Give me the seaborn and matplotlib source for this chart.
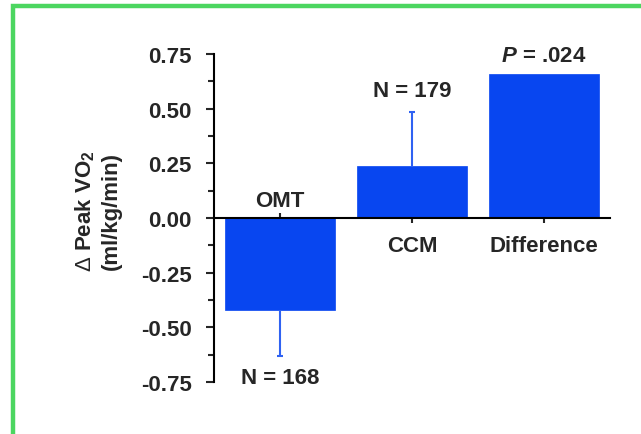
import matplotlib
matplotlib.use("Agg")
import matplotlib.pyplot as plt
import seaborn as sns
import numpy as np
import pandas as pd
from matplotlib.patches import Rectangle

categories = ["OMT", "CCM", "Difference"]
values = [-0.42, 0.24, 0.66]
err_low = [0.21, 0.0, 0.0]
err_high = [0.0, 0.245, 0.0]
yticks = [-0.75, -0.50, -0.25, 0.00, 0.25, 0.50, 0.75]
ytick_labels = ["-0.75", "-0.50", "-0.25", "0.00", "0.25", "0.50", "0.75"]
top_labels = ["N = 168", "N = 179", "$\\mathbfit{P}$ = .024"]

sns.set_style("white")
plt.rcParams["font.family"] = ["Liberation Sans", "DejaVu Sans"]
plt.rcParams["font.weight"] = "bold"
plt.rcParams["mathtext.fontset"] = "custom"
plt.rcParams["mathtext.rm"] = "Liberation Sans:normal"
plt.rcParams["mathtext.bf"] = "Liberation Sans:bold"
plt.rcParams["mathtext.it"] = "Liberation Sans:italic"
plt.rcParams["mathtext.bfit"] = "Liberation Sans:italic:bold"

blue = "#0846F0"
df = pd.DataFrame({"cat": categories, "val": values})

fig = plt.figure(figsize=(6.41, 4.35), dpi=100)
ax = fig.add_axes([214 / 641, 1 - 383 / 435, 396 / 641, 328 / 435])
sns.barplot(data=df, x="cat", y="val", color=blue, saturation=1, width=0.83,
            errorbar=None, ax=ax, edgecolor=blue, linewidth=0.5)
xpos = np.arange(len(categories))
for i in range(len(categories)):
    if err_low[i] > 0:
        ax.errorbar([xpos[i]], [values[i]], yerr=[[err_low[i]], [0]], fmt="none",
                    ecolor="#2f62f2", elinewidth=1.5, capsize=2.5, capthick=1.5,
                    lolims=False, uplims=False)
        # remove zero-length cap by drawing only lower: use separate plot
    if err_high[i] > 0:
        ax.errorbar([xpos[i]], [values[i]], yerr=[[0], [err_high[i]]], fmt="none",
                    ecolor="#2f62f2", elinewidth=1.5, capsize=2.5, capthick=1.5)
# hide caps lying on bar ends
for coll in ax.containers:
    pass
for line in ax.lines:
    ydata = line.get_ydata()
    if len(ydata) == 1 and np.isclose(ydata[0], values).any():
        line.set_visible(False)

ax.set_xlim(-0.5, 2.5)
ax.set_ylim(-0.75, 0.75)
ax.set_yticks(yticks)
ax.set_yticklabels(ytick_labels, fontsize=16, fontweight="bold")
ax.set_yticks(np.arange(-0.625, 0.75, 0.25), minor=True)
ax.tick_params(axis="y", which="major", direction="out", length=6, width=1.5, pad=10, left=True)
ax.tick_params(axis="y", which="minor", direction="out", length=4, width=1.5, left=True)
ax.set_xticks(xpos)
ax.set_xticklabels([])
ax.tick_params(axis="x", which="major", direction="inout", length=7, width=1.5, bottom=True)
ax.set_xlabel("")

for s in ["top", "right"]:
    ax.spines[s].set_visible(False)
ax.spines["left"].set_linewidth(1.5)
ax.spines["left"].set_color("black")
ax.spines["bottom"].set_position(("data", 0))
ax.spines["bottom"].set_linewidth(1.5)
ax.spines["bottom"].set_color("black")

ax.set_ylabel("$\\Delta$ Peak VO$_\\mathbf{2}$\n(ml/kg/min)", fontsize=16, fontweight="bold",
              linespacing=1.25)
ax.yaxis.set_label_coords(-0.232, 0.523)

# category labels
ax.text(0, 0.082, categories[0], ha="center", va="center", fontsize=16, fontweight="bold")
ax.text(1, -0.128, categories[1], ha="center", va="center", fontsize=16, fontweight="bold")
ax.text(2, -0.128, categories[2], ha="center", va="center", fontsize=16, fontweight="bold")
# top labels
ax.text(0, -0.73, top_labels[0], ha="center", va="center", fontsize=16, fontweight="bold", clip_on=False)
ax.text(1, 0.585, top_labels[1], ha="center", va="center", fontsize=16, fontweight="bold")
ax.text(2, 0.745, top_labels[2], ha="center", va="center", fontsize=16, fontweight="bold", clip_on=False)

# green frame (top and left visible)
fig.patches.append(Rectangle((13 / 641, -0.2), 1.2, 1.2 - 7 / 435,
                             transform=fig.transFigure, fill=False,
                             edgecolor="#4cd660", linewidth=3.2, zorder=10))

fig.savefig("out.png", dpi=100, facecolor="white")
